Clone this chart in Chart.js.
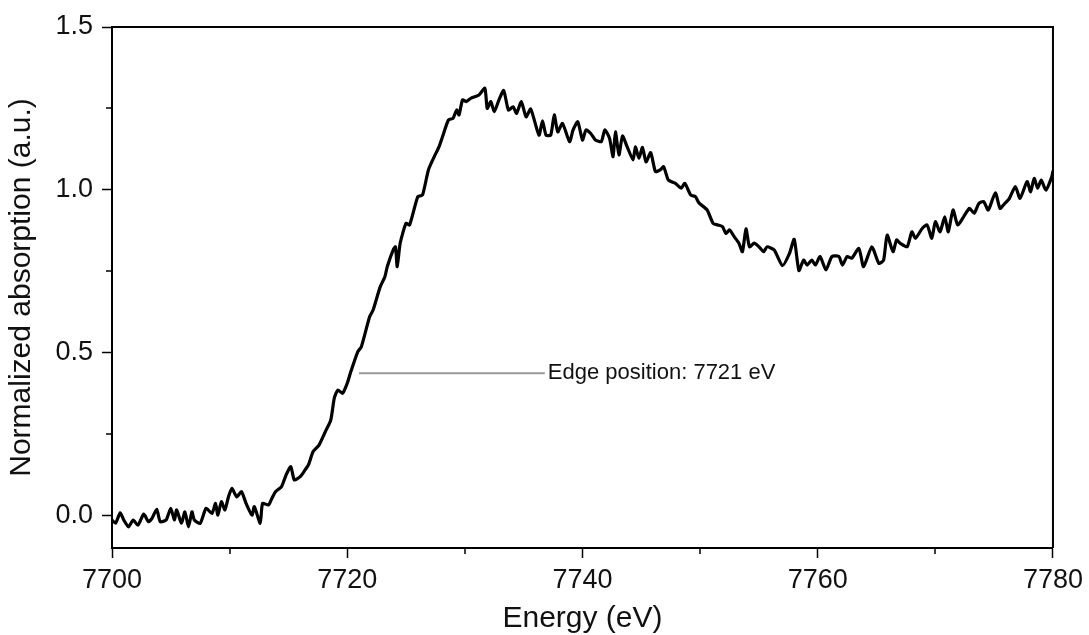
<!DOCTYPE html>
<html>
<head>
<meta charset="utf-8">
<script src="https://cdn.jsdelivr.net/npm/chart.js@4"></script>
<style>
  body { margin: 0; background: #fff; }
  #wrap { width: 1089px; height: 635px; }
</style>
</head>
<body>
<div id="wrap"><canvas id="xanesCanvas"></canvas></div>
<script>
// values
const energy = [
  7700.0, 7700.3, 7700.7, 7701.0, 7701.4, 7701.8, 7702.2, 7702.7, 7703.1, 7703.4,
  7703.8, 7704.1, 7704.6, 7705.0, 7705.3, 7705.5, 7705.9, 7706.2, 7706.5, 7706.8,
  7707.0, 7707.5, 7708.0, 7708.5, 7708.8, 7709.0, 7709.3, 7709.6, 7709.9, 7710.2,
  7710.6, 7711.0, 7711.4, 7711.9, 7712.1, 7712.6, 7712.8, 7713.3, 7713.6, 7713.9,
  7714.4, 7714.8, 7715.2, 7715.5, 7716.0, 7716.4, 7716.7, 7717.1, 7717.6, 7718.2,
  7718.6, 7718.9, 7719.2, 7719.6, 7720.0, 7720.3, 7720.9, 7721.2, 7721.9, 7722.2,
  7722.8, 7723.2, 7723.4, 7723.9, 7724.1, 7724.25, 7724.5, 7725.0, 7725.3, 7726.0,
  7726.4, 7726.9, 7727.4, 7727.8, 7728.1, 7728.6, 7729.0, 7729.3, 7729.5, 7729.8,
  7730.1, 7730.5, 7731.2, 7731.7, 7731.9, 7732.2, 7732.5, 7732.9, 7733.3, 7733.7,
  7734.1, 7734.4, 7734.8, 7735.2, 7735.6, 7736.3, 7736.6, 7736.9, 7737.3, 7737.6,
  7737.9, 7738.3, 7738.9, 7739.2, 7739.6, 7740.0, 7740.3, 7740.7, 7741.1, 7741.6,
  7741.9, 7742.3, 7742.6, 7742.8, 7743.1, 7743.4, 7743.8, 7744.3, 7744.5, 7744.8,
  7745.1, 7745.4, 7745.8, 7746.2, 7746.6, 7746.9, 7747.3, 7747.9, 7748.4, 7748.7,
  7749.2, 7749.6, 7749.9, 7750.6, 7751.1, 7751.5, 7751.9, 7752.2, 7752.5, 7752.9,
  7753.3, 7753.6, 7753.9, 7754.2, 7754.6, 7755.0, 7755.4, 7755.7, 7756.3, 7757.0,
  7757.6, 7758.0, 7758.4, 7758.8, 7759.1, 7759.5, 7759.8, 7760.2, 7760.7, 7761.2,
  7761.8, 7762.1, 7762.5, 7762.9, 7763.5, 7763.9, 7764.6, 7765.2, 7765.6, 7765.9,
  7766.4, 7766.7, 7767.0, 7767.6, 7768.0, 7768.3, 7768.9, 7769.3, 7769.7, 7770.0,
  7770.4, 7770.8, 7771.1, 7771.5, 7771.9, 7772.4, 7772.9, 7773.3, 7773.7, 7774.1,
  7774.5, 7775.1, 7775.5, 7775.9, 7776.3, 7776.8, 7777.2, 7777.8, 7778.1, 7778.4,
  7778.7, 7779.0, 7779.4, 7779.9, 7780.0
];
const absorption = [
  -0.014, -0.024, 0.008, -0.014, -0.035, -0.014, -0.030, 0.004, -0.019, -0.009,
  0.019, -0.019, -0.014, 0.022, -0.014, 0.017, -0.024, 0.011, -0.035, 0.011,
  -0.014, -0.024, 0.022, 0.006, 0.037, 0.001, 0.042, 0.017, 0.057, 0.083,
  0.057, 0.073, 0.037, 0.001, 0.027, -0.024, 0.037, 0.032, 0.053, 0.073,
  0.088, 0.124, 0.150, 0.109, 0.119, 0.139, 0.155, 0.196, 0.216, 0.262,
  0.293, 0.360, 0.385, 0.375, 0.406, 0.441, 0.503, 0.518, 0.610, 0.631,
  0.702, 0.733, 0.764, 0.815, 0.825, 0.764, 0.836, 0.897, 0.892, 0.979,
  0.984, 1.061, 1.102, 1.132, 1.163, 1.214, 1.220, 1.245, 1.230, 1.276,
  1.271, 1.281, 1.291, 1.312, 1.250, 1.271, 1.240, 1.276, 1.305, 1.245,
  1.255, 1.235, 1.271, 1.224, 1.248, 1.168, 1.212, 1.168, 1.168, 1.230,
  1.178, 1.204, 1.148, 1.184, 1.209, 1.153, 1.184, 1.173, 1.153, 1.148,
  1.184, 1.158, 1.102, 1.178, 1.107, 1.165, 1.132, 1.092, 1.132, 1.097,
  1.130, 1.086, 1.114, 1.056, 1.061, 1.071, 1.030, 1.020, 1.005, 1.020,
  0.984, 0.979, 0.960, 0.938, 0.897, 0.892, 0.887, 0.866, 0.877, 0.856,
  0.836, 0.810, 0.880, 0.825, 0.836, 0.825, 0.810, 0.825, 0.815, 0.767,
  0.805, 0.848, 0.752, 0.784, 0.769, 0.784, 0.769, 0.795, 0.754, 0.795,
  0.795, 0.769, 0.795, 0.790, 0.820, 0.764, 0.825, 0.774, 0.784, 0.861,
  0.810, 0.846, 0.836, 0.825, 0.871, 0.851, 0.882, 0.892, 0.851, 0.902,
  0.871, 0.917, 0.871, 0.938, 0.892, 0.917, 0.943, 0.928, 0.958, 0.964,
  0.938, 0.991, 0.943, 0.958, 0.974, 1.010, 0.974, 1.025, 0.994, 1.035,
  1.005, 1.030, 0.999, 1.040, 1.058
];

// edge position marker
const edgeLineX = [7721.0, 7736.8];
const edgeLineY = [0.437, 0.437];
const edgeLabel = "Edge position: 7721 eV";

// axis ticks
const xTicks = [7700, 7720, 7740, 7760, 7780];
const xMinorTicks = [7710, 7730, 7750, 7770];
const yTicks = [0.0, 0.5, 1.0, 1.5];
const yMinorTicks = [0.25, 0.75, 1.25];

const fontFamily = "'Liberation Sans', Arial, sans-serif";

const framePlugin = {
    id: "frame",
    afterDraw(chart) {
        const ctx = chart.ctx;
        const a = chart.chartArea;
        const xs = chart.scales.x;
        const ys = chart.scales.y;
        ctx.save();
        ctx.strokeStyle = "#000";
        ctx.lineWidth = 2;
        // top and right edges of the box
        ctx.beginPath();
        ctx.moveTo(a.left, a.top);
        ctx.lineTo(a.right, a.top);
        ctx.lineTo(a.right, a.bottom);
        ctx.stroke();
        // minor ticks
        ctx.lineWidth = 1.5;
        ctx.beginPath();
        xMinorTicks.forEach(v => {
            const px = Math.round(xs.getPixelForValue(v));
            ctx.moveTo(px, a.bottom);
            ctx.lineTo(px, a.bottom + 6);
        });
        yMinorTicks.forEach(v => {
            const py = Math.round(ys.getPixelForValue(v));
            ctx.moveTo(a.left, py);
            ctx.lineTo(a.left - 6, py);
        });
        ctx.stroke();
        // edge label
        ctx.fillStyle = "#111";
        ctx.font = "22px " + fontFamily;
        ctx.textBaseline = "middle";
        ctx.textAlign = "left";
        ctx.fillText(edgeLabel, xs.getPixelForValue(edgeLineX[1]) + 3, ys.getPixelForValue(edgeLineY[1]));
        ctx.restore();
    }
};

const xanesCanvas = document.getElementById("xanesCanvas");
const xanesChart = new Chart(xanesCanvas, {
    type: "line",
    data: {
        datasets: [{
            label: "Edge",
            data: edgeLineX.map((x, i) => ({x: x, y: edgeLineY[i]})),
            borderColor: "#999",
            borderWidth: 2,
            pointRadius: 0
        }, {
            label: "XANES",
            data: energy.map((x, i) => ({x: x, y: absorption[i]})),
            borderColor: "#000",
            borderWidth: 3.2,
            pointRadius: 0,
            tension: 0.2,
            borderJoinStyle: "round"
        }]
    },
    options: {
        responsive: true,
        maintainAspectRatio: false,
        animation: false,
        layout: { padding: { top: 27, right: 35, left: 0, bottom: 0 } },
        plugins: {
            legend: { display: false },
            tooltip: { enabled: false }
        },
        scales: {
            x: {
                type: "linear",
                min: 7700,
                max: 7780,
                afterBuildTicks: s => { s.ticks = xTicks.map(v => ({value: v})); },
                afterFit: s => { s.height = 87; },
                grid: { drawOnChartArea: false, tickLength: 10, tickColor: "#000", tickWidth: 1.5 },
                border: { color: "#000", width: 2 },
                ticks: {
                    color: "#111",
                    padding: 6,
                    maxRotation: 0,
                    font: { family: fontFamily, size: 27 },
                    callback: v => String(v)
                },
                title: {
                    display: true,
                    text: "Energy (eV)",
                    color: "#111",
                    padding: { top: 0, bottom: -2 },
                    font: { family: fontFamily, size: 30 }
                }
            },
            y: {
                min: -0.1,
                max: 1.5,
                afterBuildTicks: s => { s.ticks = yTicks.map(v => ({value: v})); },
                afterFit: s => { s.width = 112; },
                grid: { drawOnChartArea: false, tickLength: 10, tickColor: "#000", tickWidth: 1.5 },
                border: { color: "#000", width: 2 },
                ticks: {
                    color: "#111",
                    padding: 9,
                    font: { family: fontFamily, size: 27 },
                    callback: v => v.toFixed(1)
                },
                title: {
                    display: true,
                    text: "Normalized absorption (a.u.)",
                    color: "#111",
                    padding: { top: 4, bottom: 0 },
                    font: { family: fontFamily, size: 30 }
                }
            }
        }
    },
    plugins: [framePlugin]
});
</script>
</body>
</html>
